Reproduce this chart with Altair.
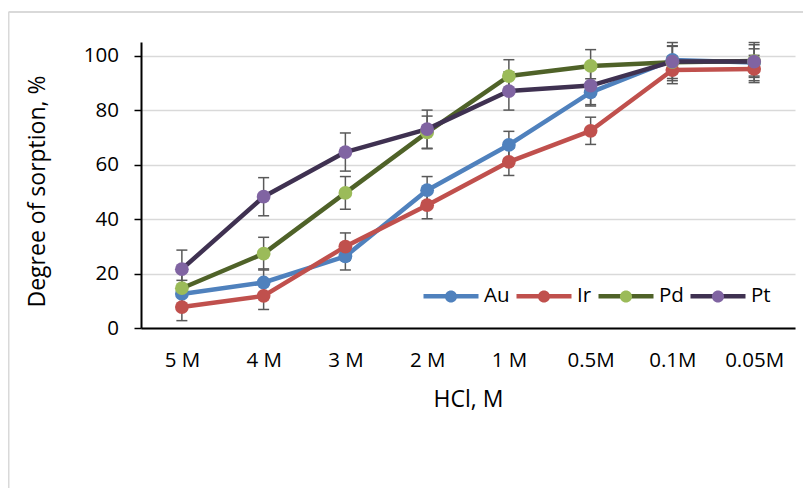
import altair as alt
import pandas as pd

categories = ["5 M", "4 M", "3 M", "2 M", "1 M", "0.5M", "0.1M", "0.05M"]
series_names = ["Au", "Ir", "Pd", "Pt"]

au = [12.5, 16.7, 26.3, 50.6, 67.2, 86.5, 98.4, 97.5]
ir = [7.7, 11.8, 29.9, 45.1, 61.0, 72.4, 94.7, 95.1]
pd_vals = [14.6, 27.3, 49.6, 71.8, 92.5, 96.2, 97.6, 98.0]
pt = [21.6, 48.2, 64.6, 73.0, 87.0, 89.0, 97.8, 97.8]

err_au = [5, 5, 5, 5, 5, 5, 5, 5]
err_ir = [5, 5, 5, 5, 5, 5, 5, 5]
err_pd = [6, 6, 6, 6, 6, 6, 6, 6]
err_pt = [7, 7, 7, 7, 7, 7, 7, 7]

y_ticks = [0, 20, 40, 60, 80, 100]

line_colors = ["#4f81bd", "#c0504d", "#4f6228", "#3f3151"]
marker_colors = ["#4f81bd", "#c0504d", "#9bbb59", "#8064a2"]

SUFFIX = "_m"
marker_names = [n + SUFFIX for n in series_names]

rows = []
for name, vals, errs in zip(series_names, [au, ir, pd_vals, pt], [err_au, err_ir, err_pd, err_pt]):
    for c, v, e in zip(categories, vals, errs):
        rows.append({"conc": c, "series": name, "series_m": name + SUFFIX,
                     "value": v, "lo": v - e, "hi": v + e})
df = pd.DataFrame(rows)

FONT = "Open Sans"

x_axis = alt.Axis(ticks=False, tickSize=0, domainColor="black", domainWidth=2,
                  labelAngle=0, labelFont=FONT, labelFontSize=20.5, labelColor="black",
                  labelBaseline="alphabetic", labelPadding=38.7, grid=False,
                  title="HCl, M", titleFont=FONT, titleFontSize=23, titleFontWeight="normal",
                  titleColor="black", titleBaseline="alphabetic", titleY=78.4)
y_axis = alt.Axis(values=y_ticks, grid=True, gridColor="#d9d9d9", gridWidth=1.5,
                  domainColor="black", domainWidth=2, tickColor="black", tickWidth=1.5,
                  tickSize=7, labelPadding=15.5, labelFont=FONT, labelFontSize=20.5,
                  labelColor="black", title="Degree of sorption, %", titleFont=FONT,
                  titleFontSize=23, titleFontWeight="normal", titleColor="black",
                  titleBaseline="alphabetic", titleAngle=270, titleX=-97, titleY=149)

x_scale = alt.Scale(type="point", domain=categories, padding=0.5)
y_scale = alt.Scale(domain=[0, 105], nice=False)


def X():
    return alt.X("conc:N", scale=x_scale, axis=x_axis)


def Y(field):
    return alt.Y(field, scale=y_scale, axis=y_axis, title="Degree of sorption, %")


legend_common = dict(orient="none", legendX=280, legendY=224, direction="horizontal",
                     title=None, symbolSize=3025, labelFont=FONT, labelFontSize=20.5,
                     labelColor="black", labelOffset=3, columnPadding=-3, padding=0,
                     rowPadding=0, symbolStrokeWidth=4.5,
                     labelExpr="replace(datum.label, '" + SUFFIX + "', '')")

circle_path = ("M-1,0L1,0M-0.22,0A0.22,0.22,0,1,1,0.22,0"
               "A0.22,0.22,0,1,1,-0.22,0Z")

base = alt.Chart(df)

lines = base.mark_line(strokeWidth=4.5, strokeCap="round", strokeJoin="round").encode(
    x=X(), y=Y("value:Q"),
    color=alt.Color("series:N", scale=alt.Scale(domain=series_names, range=line_colors),
                    legend=alt.Legend(symbolType="M-1,0L1,0", **legend_common)),
)

err_rule = base.mark_rule(color="#595959", strokeWidth=1.5).encode(
    x=X(), y=Y("lo:Q"), y2="hi:Q")
err_lo = base.mark_tick(color="#595959", thickness=1.5, size=11, opacity=1).encode(
    x=X(), y=Y("lo:Q"))
err_hi = base.mark_tick(color="#595959", thickness=1.5, size=11, opacity=1).encode(
    x=X(), y=Y("hi:Q"))

points = base.mark_circle(size=190, opacity=1, strokeWidth=0).encode(
    x=X(), y=Y("value:Q"),
    fill=alt.Fill("series_m:N", scale=alt.Scale(domain=marker_names, range=marker_colors),
                  legend=alt.Legend(symbolType=circle_path, symbolStrokeColor="transparent",
                                    labelOpacity=0, **legend_common)),
)

bdata = pd.DataFrame({"k": [0]})
border_left = alt.Chart(bdata).mark_rule(color="#d9d9d9", strokeWidth=2).encode(
    x=alt.value(-132.5), y=alt.value(-30), y2=alt.value(520))
border_top = alt.Chart(bdata).mark_rule(color="#d9d9d9", strokeWidth=2).encode(
    x=alt.value(-132.5), x2=alt.value(720), y=alt.value(-30))

chart = alt.layer(border_left, border_top, lines, err_rule, err_lo, err_hi, points).properties(
    width=654, height=286,
    autosize=alt.AutoSizeParams(type="none"),
    padding={"left": 133, "top": 34, "right": 8, "bottom": 160},
    background="white",
).configure_view(stroke=None)

chart.save("out.html", embed_options={"renderer": "svg", "actions": False})
